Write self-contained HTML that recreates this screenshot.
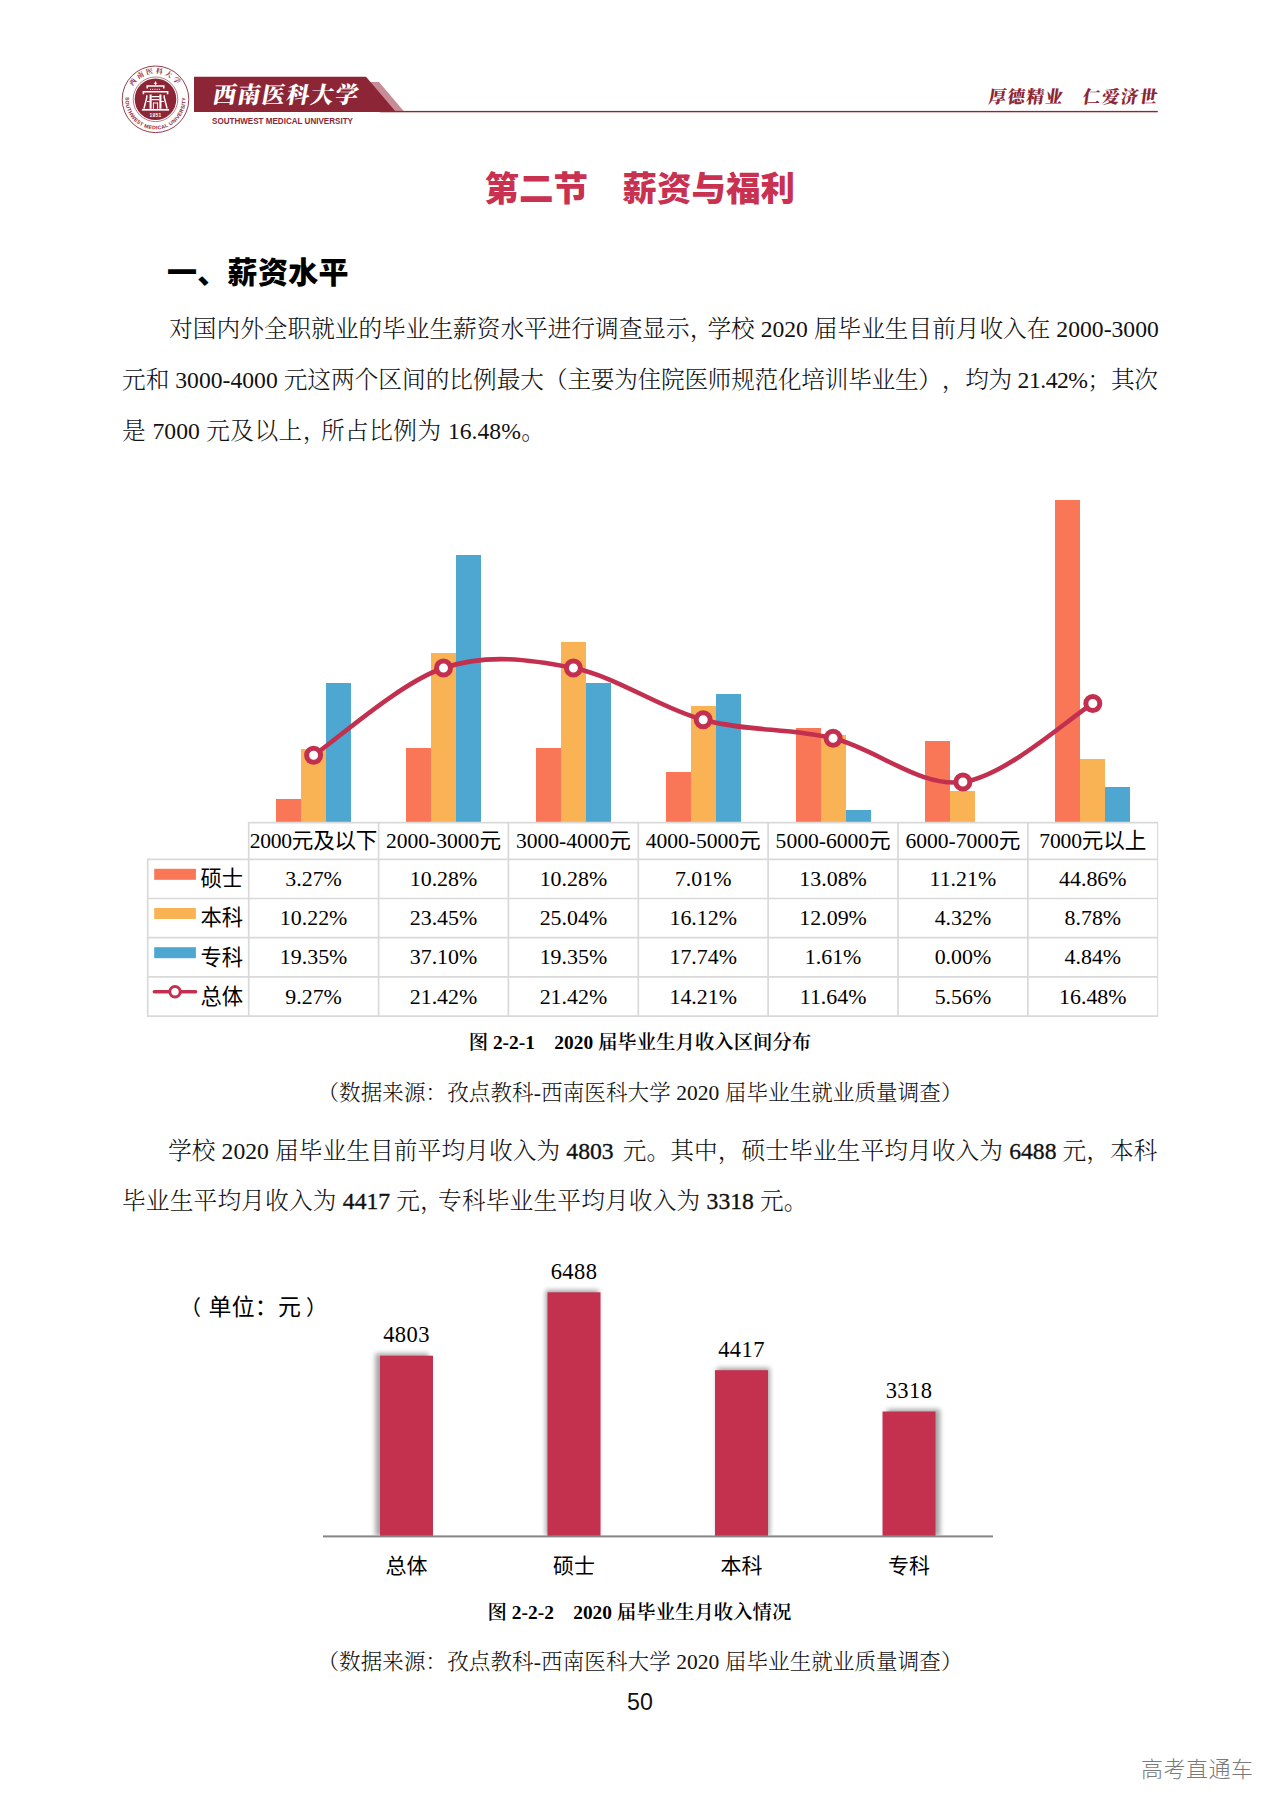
<!DOCTYPE html>
<html lang="zh-CN">
<head>
<meta charset="utf-8">
<title>第二节 薪资与福利</title>
<style>
html,body{margin:0;padding:0;background:#fff;}
body{width:1280px;height:1810px;position:relative;overflow:hidden;font-family:"Liberation Serif","Noto Serif CJK SC",serif;color:#000;}
.abs{position:absolute;}
.c{margin-right:-0.25em;}
.ln{text-spacing-trim:space-all;position:absolute;white-space:nowrap;text-align:justify;text-align-last:justify;margin:0;}
.body{font-size:23.66px;line-height:34px;height:34px;font-weight:300;color:#111;}
.cap{font-size:19.4px;line-height:28px;height:28px;font-weight:600;color:#000;}
.src{font-size:21.5px;line-height:30px;height:30px;font-weight:300;color:#111;}
.h1{font-family:"Liberation Sans","Noto Sans CJK SC",sans-serif;font-weight:900;font-size:34.5px;line-height:44px;height:44px;color:#C8314F;}
.h2{font-family:"Liberation Sans","Noto Sans CJK SC",sans-serif;font-weight:900;font-size:30px;line-height:40px;height:40px;color:#000;}
svg text{fill:#000;}
.th{font-family:"Liberation Serif","Noto Sans CJK SC",sans-serif;}
.th{font-size:21.6px;text-anchor:middle;}
.td{font-size:21.9px;text-anchor:middle;font-family:"Liberation Serif",serif;}
.lg{font-size:21.3px;font-family:"Liberation Sans","Noto Sans CJK SC",sans-serif;}
.v2{font-size:22.5px;letter-spacing:0.4px;text-anchor:middle;font-family:"Liberation Serif",serif;}
.c2{font-size:21px;text-anchor:middle;font-family:"Liberation Sans","Noto Sans CJK SC",sans-serif;}
.unit{font-size:21px;font-family:"Liberation Sans","Noto Sans CJK SC",sans-serif;}
b.n{font-weight:400;-webkit-text-stroke:0.35px #111;}
</style>
</head>
<body>
<!-- header -->
<svg class="abs" style="left:0;top:0" width="1280" height="150" viewBox="0 0 1280 150">
  <defs>
    <path id="arcTop" d="M129.5,99.3 A26,26 0 0 1 181.5,99.3"/>
    <path id="arcBot" d="M126.6,91 A30.1,30.1 0 1 0 184.4,91"/>
  </defs>
  <polygon points="369,82 379,82 404.5,112 394,112" fill="#C78C96"/>
  <polygon points="194,76.8 366,76.8 396,112 194,112" fill="#8C2636"/>
  <rect x="380" y="110.9" width="777.8" height="1.4" fill="#8C2636"/>
  <circle cx="155.5" cy="99.3" r="33.3" fill="#fff" stroke="#8C2636" stroke-width="0.9"/>
  <circle cx="155.5" cy="99.3" r="22.3" fill="none" stroke="#8C2636" stroke-width="0.6"/>
  <circle cx="155.5" cy="99.3" r="20.8" fill="#8C2636"/>
  <text font-weight="700" font-size="6.9"  style="font-family:&quot;Liberation Serif&quot;,&quot;Noto Serif CJK SC&quot;,serif;fill:#8C2636" letter-spacing="2.2"><textPath href="#arcTop" startOffset="50%" text-anchor="middle">西南医科大学</textPath></text>
  <text font-weight="700" font-size="5.2"  style="font-family:&quot;Liberation Sans&quot;,sans-serif;fill:#8C2636" letter-spacing="0.3"><textPath href="#arcBot" startOffset="50%" text-anchor="middle">SOUTHWEST MEDICAL UNIVERSITY</textPath></text>
  <!-- building emblem -->
  <g fill="none" stroke="#fff" stroke-linecap="butt" stroke-linejoin="miter">
    <path d="M155.5,81.6 V85.2 M153.9,83.3 H157.1" stroke-width="1.1"/>
    <path d="M147.2,88.4 V86.1 H163.8 V88.4" stroke-width="1.5"/>
    <path d="M150,89.3 H161" stroke-width="1" stroke-dasharray="1.1 1.1"/>
    <path d="M143.4,94.2 V91.8 H167.6 V94.2" stroke-width="1.6"/>
    <path d="M146.8,95.2 V97.5 L143.9,108.6 M164.2,95.2 V97.5 L167.1,108.6" stroke-width="1.5"/>
    <path d="M150.6,94.5 V108.8 M160.4,94.5 V108.8" stroke-width="2.1"/>
    <path d="M151.5,96.6 H159.5 M151.5,99.6 H159.5 M147,101.5 H150 M161,101.5 H164" stroke-width="1.1"/>
    <path d="M153.4,102.5 V108.8 M157.6,102.5 V108.8 M153.4,103 H157.6" stroke-width="1"/>
    <path d="M141.9,109.8 H169.1" stroke-width="1.7"/>
  </g>
  <text x="155.5" y="117.2" text-anchor="middle" font-size="4.9" font-weight="700" style="font-family:&quot;Liberation Sans&quot;,sans-serif;fill:#fff" letter-spacing="0.3">1951</text>
  <text x="212" y="103.2" font-weight="900" font-size="23"  style="font-family:&quot;Liberation Serif&quot;,&quot;Noto Serif CJK SC&quot;,serif;fill:#fff" textLength="145" lengthAdjust="spacing" transform="skewX(-10)" transform-origin="211 103">西南医科大学</text>
  <text x="212" y="124.2" font-weight="700" font-size="9.6"  style="font-family:&quot;Liberation Sans&quot;,sans-serif;fill:#8C2636" textLength="141" lengthAdjust="spacingAndGlyphs">SOUTHWEST MEDICAL UNIVERSITY</text>
  <text x="988" y="103.4" font-weight="900" font-size="17.5"  style="font-family:&quot;Liberation Serif&quot;,&quot;Noto Serif CJK SC&quot;,serif;fill:#8C2636" textLength="168.5" lengthAdjust="spacing" transform="skewX(-8)" transform-origin="987 103">厚德精业　仁爱济世</text>
</svg>
<!-- headings -->
<div class="ln h1" style="left:484.5px;width:310px;top:167px;">第二节　薪资与福利</div>
<div class="ln h2" style="left:167px;width:181.5px;top:253px;">一、薪资水平</div>
<!-- paragraph 1 -->
<div class="ln body" style="left:169.2px;width:988.3px;top:312px;">对国内外全职就业的毕业生薪资水平进行调查显示<span class="c">，</span>学校 2020 届毕业生目前月收入在 2000-3000</div>
<div class="ln body" style="left:122px;width:422px;top:363px;">元和 3000-4000 元这两个区间的比例最大</div>
<div class="ln body" style="left:544px;width:613.5px;top:363px;letter-spacing:-0.5px;">（主要为住院医师规范化培训毕业生），均为 21.42%；其次</div>
<div class="ln body" style="left:122px;width:423px;top:414px;">是 7000 元及以上<span class="c">，</span>所占比例为 16.48%。</div>
<!-- captions 1 -->
<div class="ln cap" style="left:468.7px;width:339.6px;top:1028.5px;">图 2-2-1　2020 届毕业生月收入区间分布</div>
<div class="ln src" style="left:317.5px;width:645px;top:1078px;">（数据来源：孜点教科-西南医科大学 2020 届毕业生就业质量调查）</div>
<!-- paragraph 2 -->
<div class="ln body" style="left:168px;width:989.5px;top:1134px;">学校 2020 届毕业生目前平均月收入为 <b class="n">4803</b> <span style="margin-left:3px">元</span>。其中，硕士毕业生平均月收入为 <b class="n">6488</b> 元，本科</div>
<div class="ln body" style="left:122px;width:685.5px;top:1184px;">毕业生平均月收入为 <b class="n">4417</b> 元<span class="c">，</span>专科毕业生平均月收入为 <b class="n">3318</b> 元。</div>
<!-- captions 2 -->
<div class="ln cap" style="left:487.6px;width:302px;top:1598.5px;">图 2-2-2　2020 届毕业生月收入情况</div>
<div class="ln src" style="left:317.5px;width:645px;top:1647px;">（数据来源：孜点教科-西南医科大学 2020 届毕业生就业质量调查）</div>
<div class="ln" style="left:627px;width:26px;top:1688px;font-family:'Liberation Sans',sans-serif;font-size:23.2px;line-height:28px;color:#111;">50</div>
<div class="ln" style="left:1141px;width:112px;top:1755px;font-family:'Liberation Sans','Noto Sans CJK SC',sans-serif;font-weight:300;font-size:22px;line-height:30px;color:#7a7a7a;">高考直通车</div>
<svg class="abs" style="left:0;top:0" width="1280" height="1030" viewBox="0 0 1280 1030">
<g shape-rendering="crispEdges"><rect x="276.1" y="798.5" width="25.0" height="23.5" fill="#F97656"/><rect x="301.1" y="748.5" width="25.0" height="73.5" fill="#F9B354"/><rect x="326.1" y="682.9" width="25.0" height="139.1" fill="#4EA7D0"/><rect x="406.0" y="748.1" width="25.0" height="73.9" fill="#F97656"/><rect x="431.0" y="653.4" width="25.0" height="168.6" fill="#F9B354"/><rect x="456.0" y="555.3" width="25.0" height="266.7" fill="#4EA7D0"/><rect x="535.9" y="748.1" width="25.0" height="73.9" fill="#F97656"/><rect x="560.9" y="642.0" width="25.0" height="180.0" fill="#F9B354"/><rect x="585.9" y="682.9" width="25.0" height="139.1" fill="#4EA7D0"/><rect x="665.7" y="771.6" width="25.0" height="50.4" fill="#F97656"/><rect x="690.7" y="706.1" width="25.0" height="115.9" fill="#F9B354"/><rect x="715.7" y="694.4" width="25.0" height="127.6" fill="#4EA7D0"/><rect x="795.6" y="728.0" width="25.0" height="94.0" fill="#F97656"/><rect x="820.6" y="735.1" width="25.0" height="86.9" fill="#F9B354"/><rect x="845.6" y="810.4" width="25.0" height="11.6" fill="#4EA7D0"/><rect x="925.4" y="741.4" width="25.0" height="80.6" fill="#F97656"/><rect x="950.4" y="790.9" width="25.0" height="31.1" fill="#F9B354"/><rect x="1055.3" y="499.5" width="25.0" height="322.5" fill="#F97656"/><rect x="1080.3" y="758.9" width="25.0" height="63.1" fill="#F9B354"/><rect x="1105.3" y="787.2" width="25.0" height="34.8" fill="#4EA7D0"/></g>
<path d="M313.6,755.3 C335.3,740.8 400.2,682.5 443.5,668.0 C486.8,653.4 530.1,659.4 573.4,668.0 C616.6,676.6 659.9,708.1 703.2,719.8 C746.5,731.5 789.8,727.9 833.1,738.3 C876.4,748.7 919.6,787.8 962.9,782.0 C1006.2,776.2 1071.1,716.6 1092.8,703.5" fill="none" stroke="#C3304F" stroke-width="4.6" stroke-linecap="round"/><circle cx="313.6" cy="755.3" r="7" fill="#fff" stroke="#C3304F" stroke-width="5"/><circle cx="443.5" cy="668.0" r="7" fill="#fff" stroke="#C3304F" stroke-width="5"/><circle cx="573.4" cy="668.0" r="7" fill="#fff" stroke="#C3304F" stroke-width="5"/><circle cx="703.2" cy="719.8" r="7" fill="#fff" stroke="#C3304F" stroke-width="5"/><circle cx="833.1" cy="738.3" r="7" fill="#fff" stroke="#C3304F" stroke-width="5"/><circle cx="962.9" cy="782.0" r="7" fill="#fff" stroke="#C3304F" stroke-width="5"/><circle cx="1092.8" cy="703.5" r="7" fill="#fff" stroke="#C3304F" stroke-width="5"/>
<g stroke="#D9D9D9" stroke-width="1.7" fill="none"><line x1="247.9" y1="822.7" x2="1158.1" y2="822.7"/><line x1="146.9" y1="859.3" x2="1158.1" y2="859.3"/><line x1="146.9" y1="898.5" x2="1158.1" y2="898.5"/><line x1="146.9" y1="937.7" x2="1158.1" y2="937.7"/><line x1="146.9" y1="976.9" x2="1158.1" y2="976.9"/><line x1="146.9" y1="1016.1" x2="1158.1" y2="1016.1"/><line x1="147.7" y1="859.3" x2="147.7" y2="1016.1"/><line x1="248.7" y1="822.7" x2="248.7" y2="1016.1"/><line x1="378.6" y1="822.7" x2="378.6" y2="1016.1"/><line x1="508.4" y1="822.7" x2="508.4" y2="1016.1"/><line x1="638.3" y1="822.7" x2="638.3" y2="1016.1"/><line x1="768.1" y1="822.7" x2="768.1" y2="1016.1"/><line x1="898.0" y1="822.7" x2="898.0" y2="1016.1"/><line x1="1027.9" y1="822.7" x2="1027.9" y2="1016.1"/><line x1="1157.6" y1="822.7" x2="1157.6" y2="1016.1" stroke-width="1.1"/></g>
<text x="313.6" y="847.6" class="th" textLength="127.5" lengthAdjust="spacing">2000元及以下</text><text x="443.5" y="847.6" class="th" textLength="115" lengthAdjust="spacing">2000-3000元</text><text x="573.4" y="847.6" class="th" textLength="115" lengthAdjust="spacing">3000-4000元</text><text x="703.2" y="847.6" class="th" textLength="115" lengthAdjust="spacing">4000-5000元</text><text x="833.1" y="847.6" class="th" textLength="115" lengthAdjust="spacing">5000-6000元</text><text x="962.9" y="847.6" class="th" textLength="115" lengthAdjust="spacing">6000-7000元</text><text x="1092.8" y="847.6" class="th" textLength="107" lengthAdjust="spacing">7000元以上</text><text x="313.6" y="885.9" class="td">3.27%</text><text x="443.5" y="885.9" class="td">10.28%</text><text x="573.4" y="885.9" class="td">10.28%</text><text x="703.2" y="885.9" class="td">7.01%</text><text x="833.1" y="885.9" class="td">13.08%</text><text x="962.9" y="885.9" class="td">11.21%</text><text x="1092.8" y="885.9" class="td">44.86%</text><text x="313.6" y="925.1" class="td">10.22%</text><text x="443.5" y="925.1" class="td">23.45%</text><text x="573.4" y="925.1" class="td">25.04%</text><text x="703.2" y="925.1" class="td">16.12%</text><text x="833.1" y="925.1" class="td">12.09%</text><text x="962.9" y="925.1" class="td">4.32%</text><text x="1092.8" y="925.1" class="td">8.78%</text><text x="313.6" y="964.3" class="td">19.35%</text><text x="443.5" y="964.3" class="td">37.10%</text><text x="573.4" y="964.3" class="td">19.35%</text><text x="703.2" y="964.3" class="td">17.74%</text><text x="833.1" y="964.3" class="td">1.61%</text><text x="962.9" y="964.3" class="td">0.00%</text><text x="1092.8" y="964.3" class="td">4.84%</text><text x="313.6" y="1003.5" class="td">9.27%</text><text x="443.5" y="1003.5" class="td">21.42%</text><text x="573.4" y="1003.5" class="td">21.42%</text><text x="703.2" y="1003.5" class="td">14.21%</text><text x="833.1" y="1003.5" class="td">11.64%</text><text x="962.9" y="1003.5" class="td">5.56%</text><text x="1092.8" y="1003.5" class="td">16.48%</text><rect x="154.2" y="868.8" width="41.7" height="11" fill="#F97656"/><text x="200.5" y="886.1" class="lg">硕士</text><rect x="154.2" y="908.0" width="41.7" height="11" fill="#F9B354"/><text x="200.5" y="925.3" class="lg">本科</text><rect x="154.2" y="947.2" width="41.7" height="11" fill="#4EA7D0"/><text x="200.5" y="964.5" class="lg">专科</text><line x1="154.3" y1="991.7" x2="195.6" y2="991.7" stroke="#C3304F" stroke-width="3.4" stroke-linecap="round"/><circle cx="175" cy="991.7" r="5.2" fill="#fff" stroke="#C3304F" stroke-width="3"/><text x="200.5" y="1003.7" class="lg">总体</text>
</svg><svg class="abs" style="left:0;top:1230px" width="1280" height="370" viewBox="0 1230 1280 370">
<defs><filter id="sh" x="-40%" y="-10%" width="180%" height="120%"><feGaussianBlur stdDeviation="2.8"/></filter><clipPath id="cp2"><rect x="300" y="1240" width="720" height="295.6"/></clipPath></defs>
<g clip-path="url(#cp2)"><rect x="375.4" y="1353.5" width="53" height="182.8" fill="#000" opacity="0.36" filter="url(#sh)"/><rect x="545.7" y="1290.1" width="53" height="246.2" fill="#000" opacity="0.36" filter="url(#sh)"/><rect x="716.8" y="1368.0" width="53" height="168.3" fill="#000" opacity="0.36" filter="url(#sh)"/><rect x="887.1" y="1409.3" width="53" height="127.0" fill="#000" opacity="0.36" filter="url(#sh)"/></g><rect x="380.0" y="1355.7" width="53" height="180.6" fill="#C4314E"/><text x="406.5" y="1342.2" class="v2">4803</text><text x="406.5" y="1573" class="c2">总体</text><rect x="547.5" y="1292.3" width="53" height="244.0" fill="#C4314E"/><text x="574.0" y="1278.8" class="v2">6488</text><text x="574.0" y="1573" class="c2">硕士</text><rect x="715.0" y="1370.2" width="53" height="166.1" fill="#C4314E"/><text x="741.5" y="1356.7" class="v2">4417</text><text x="741.5" y="1573" class="c2">本科</text><rect x="882.5" y="1411.5" width="53" height="124.8" fill="#C4314E"/><text x="909.0" y="1398.0" class="v2">3318</text><text x="909.0" y="1573" class="c2">专科</text>
<rect x="323" y="1535.4" width="670" height="2" fill="#868686"/>
<text x="180" y="1314.5" class="unit">（</text><text x="208.6" y="1315.3" class="unit" style="font-size:22.9px" textLength="92.3" lengthAdjust="spacing">单位：元</text><text x="306" y="1314.5" class="unit">）</text>
</svg></body></html>
